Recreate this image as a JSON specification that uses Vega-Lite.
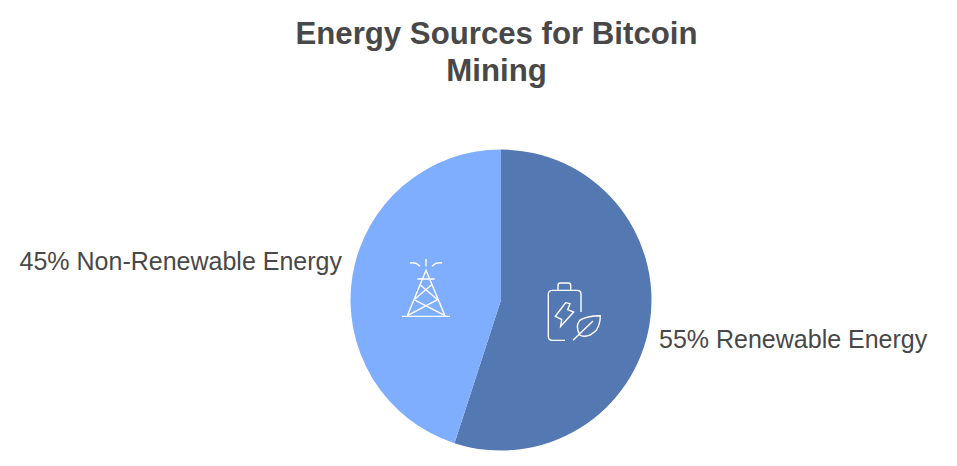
{"$schema":"https://vega.github.io/schema/vega-lite/v6.json","width":957,"height":466,"autosize":{"type":"none"},"padding":0,"background":"white","config":{"view":{"stroke":null}},"data":{"values":[{"source":"Renewable Energy","value":55,"label":"55% Renewable Energy"},{"source":"Non-Renewable Energy","value":45,"label":"45% Non-Renewable Energy"}]},"transform":[{"stack":"value","groupby":[],"sort":[{"field":"value","order":"descending"}],"as":["t0","t1"]},{"calculate":"(datum.t0 + datum.t1) / 2","as":"mid"}],"encoding":{"x":{"value":501},"y":{"value":300}},"layer":[{"mark":{"type":"arc","outerRadius":150.5,"innerRadius":0},"encoding":{"theta":{"field":"t0","type":"quantitative","scale":{"domain":[0,100],"range":[0,6.2832]}},"theta2":{"field":"t1"},"color":{"field":"source","type":"nominal","legend":null,"scale":{"domain":["Renewable Energy","Non-Renewable Energy"],"range":["#5478b2","#80aeff"]}}}},{"transform":[{"filter":"datum.source === 'Renewable Energy'"}],"mark":{"type":"text","fontSize":25,"font":"Liberation Sans","color":"#484848","align":"left","radius":160,"dy":15},"encoding":{"text":{"field":"label"},"theta":{"field":"mid","type":"quantitative","scale":{"domain":[0,100],"range":[0,6.2832]}}}},{"transform":[{"filter":"datum.source === 'Non-Renewable Energy'"}],"mark":{"type":"text","fontSize":25,"font":"Liberation Sans","color":"#484848","align":"right","radius":160,"dx":-1,"dy":-13},"encoding":{"text":{"field":"label"},"theta":{"field":"mid","type":"quantitative","scale":{"domain":[0,100],"range":[0,6.2832]}}}},{"transform":[{"filter":"datum.source === 'Non-Renewable Energy'"}],"mark":{"type":"point","filled":false,"opacity":1,"stroke":"#ffffff","strokeWidth":1.4,"size":2500,"shape":"M-0.96 1.133H0.96M-0.747 1.107L0 -0.707L0.76 1.107M-0.347 -0.36H0.347M0.227 -0.133L-0.48 0.467M-0.24 -0.133L0.467 0.467M-0.48 0.467L0.76 1.107M0.467 0.467L-0.747 1.107M0 -1.16V-0.867M-0.64 -1Q-0.4 -1.053 -0.24 -0.867M0.64 -1Q0.4 -1.053 0.24 -0.867"},"encoding":{"x":{"value":426},"y":{"value":288}}},{"transform":[{"filter":"datum.source === 'Renewable Energy'"}],"mark":{"type":"point","filled":false,"opacity":1,"stroke":"#ffffff","strokeWidth":1.4,"size":2500,"shape":"M0.32 0V-0.733Q0.32 -0.867 0.16 -0.867H-0.827Q-0.987 -0.867 -0.987 -0.707V0.973Q-0.987 1.133 -0.827 1.133H-0.32M-0.6 -0.867V-1.067Q-0.6 -1.16 -0.507 -1.16H-0.187Q-0.093 -1.16 -0.093 -1.067V-0.867M-0.293 -0.373L-0.707 0.173L-0.453 0.3L-0.493 0.573L0.027 0L-0.213 -0.093L-0.12 -0.333ZM1.093 0.147Q0.533 0.147 0.267 0.333Q0.067 0.6 0.293 0.933Q0.6 1.067 0.933 0.733Q1.093 0.467 1.093 0.147ZM0 1.133L0.8 0.36"},"encoding":{"x":{"value":573},"y":{"value":312}}}],"title":{"text":["Energy Sources for Bitcoin","Mining"],"anchor":"middle","frame":"group","fontSize":31.2,"font":"Liberation Sans","fontWeight":"bold","color":"#484848","offset":-87,"dx":18,"lineHeight":37}}
